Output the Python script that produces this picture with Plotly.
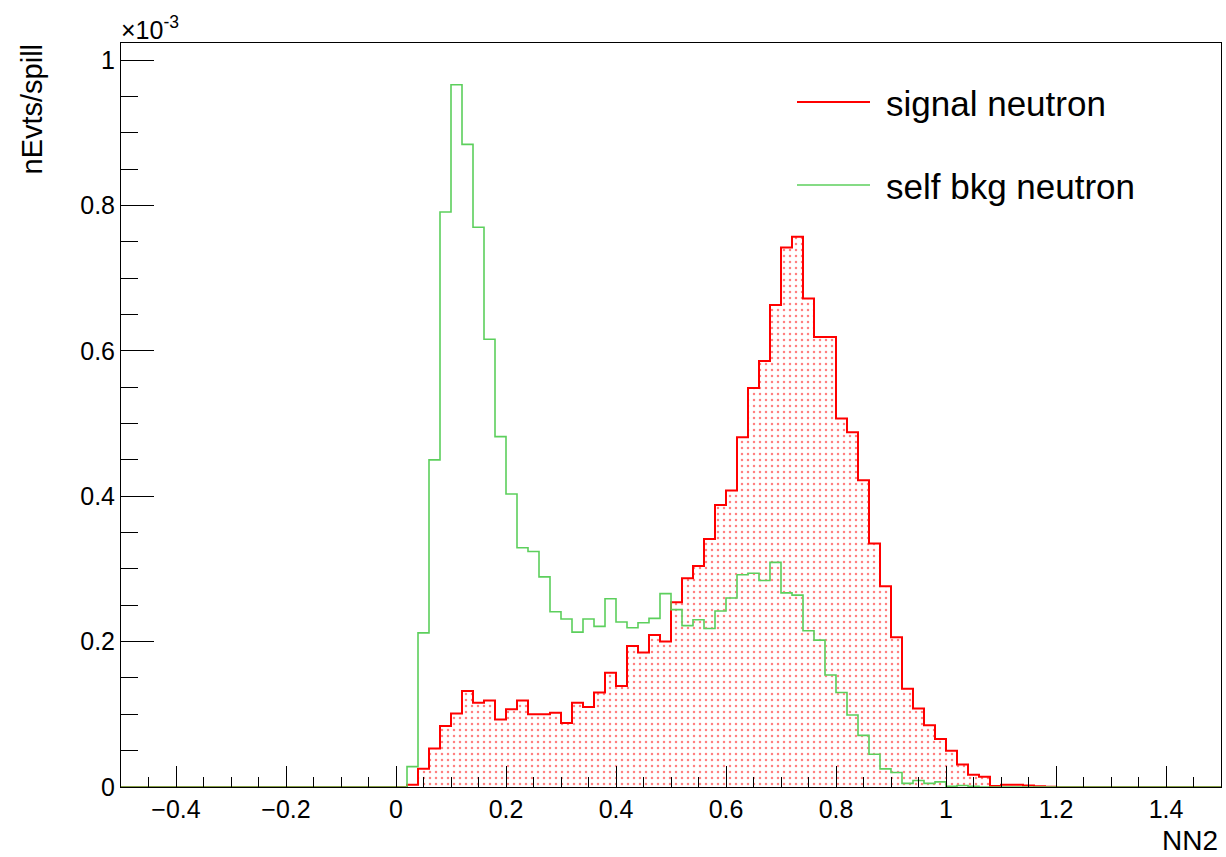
import plotly.graph_objects as go

# ---- data (values in units of 1e-3 nEvts/spill), 100 bins of 0.02 from -0.5 to 1.5 ----
X_LOW = -0.5
BIN_WIDTH = 0.02
N_BINS = 100
bin_edges = [round(X_LOW + BIN_WIDTH * i, 2) for i in range(N_BINS + 1)]

# bins below 0.00 are empty
signal_neg = [0.0] * 25
bkg_neg = [0.0] * 25

# bins starting at 0.00, 0.02, ... 1.18
signal_pos = [
    0.0, 0.003, 0.025, 0.053, 0.084, 0.101, 0.132, 0.116, 0.119, 0.093,
    0.107, 0.119, 0.100, 0.100, 0.102, 0.088, 0.116, 0.110, 0.130, 0.157,
    0.139, 0.194, 0.185, 0.209, 0.200, 0.254, 0.287, 0.304, 0.341, 0.388,
    0.408, 0.481, 0.549, 0.586, 0.663, 0.742, 0.757, 0.672, 0.619, 0.619,
    0.507, 0.488, 0.422, 0.335, 0.276, 0.206, 0.135, 0.108, 0.085, 0.066,
    0.050, 0.031, 0.017, 0.014, 0.0014, 0.003, 0.003, 0.002, 0.001, 0.0005,
]
bkg_pos = [
    0.0, 0.028, 0.212, 0.450, 0.791, 0.966, 0.884, 0.770, 0.616, 0.482,
    0.403, 0.329, 0.324, 0.289, 0.241, 0.231, 0.213, 0.231, 0.221, 0.259,
    0.227, 0.219, 0.226, 0.232, 0.266, 0.244, 0.222, 0.230, 0.218, 0.242,
    0.260, 0.292, 0.294, 0.284, 0.309, 0.267, 0.264, 0.215, 0.202, 0.154,
    0.130, 0.099, 0.071, 0.045, 0.025, 0.020, 0.005, 0.009, 0.005, 0.007,
    0.001, 0.002, 0.001, 0.0, 0.0, 0.0, 0.0, 0.0, 0.0, 0.0,
]
# bins from 1.20 to 1.48 are empty
signal_tail = [0.0] * 15
bkg_tail = [0.0] * 15

signal = signal_neg + signal_pos + signal_tail
bkg = bkg_neg + bkg_pos + bkg_tail

series_names = ["signal neutron", "self bkg neutron"]
RED = "#ff0000"
GREEN = "#5ccf5c"
FONT = "Liberation Sans, Arial, Helvetica, sans-serif"

fig = go.Figure()

# signal: dotted fill + step outline
fig.add_trace(go.Scatter(
    x=bin_edges, y=signal + [signal[-1]],
    mode="lines", line=dict(shape="hv", color=RED, width=2),
    fill="tozeroy", fillcolor="rgba(255,255,255,0)",
    fillpattern=dict(shape=".", fgcolor=RED, bgcolor="rgba(255,255,255,0)",
                     size=6, solidity=0.14),
    name=series_names[0], showlegend=False,
))
# background: step outline
fig.add_trace(go.Scatter(
    x=bin_edges, y=bkg + [bkg[-1]],
    mode="lines", line=dict(shape="hv", color=GREEN, width=1.6),
    name=series_names[1], showlegend=False,
))

L, R, T, B = 121, 1221, 43, 787
W, H = 1226, 857
def px_x(p):
    return (p - L) / (R - L)
def px_y(p):
    return (B - p) / (B - T)

# legend (ROOT TLegend style)
legend_rows = [(series_names[0], RED, 102), (series_names[1], GREEN, 185)]
shapes = []
annotations = []
for name, col, py in legend_rows:
    shapes.append(dict(type="line", xref="paper", yref="paper",
                       x0=px_x(797), x1=px_x(870), y0=px_y(py), y1=px_y(py),
                       line=dict(color=col, width=2 if col == RED else 1.6)))
    annotations.append(dict(xref="paper", yref="paper", x=px_x(884), y=px_y(py + 1),
                            xanchor="left", yanchor="middle", showarrow=False,
                            text=name, font=dict(family=FONT, size=35, color="black")))

# exponent label
annotations.append(dict(xref="paper", yref="paper", x=0, y=1.0, xanchor="left",
                        yanchor="bottom", showarrow=False, yshift=-3, xshift=-2,
                        text="×10<sup>-3</sup>", font=dict(family=FONT, size=25, color="black")))
# y title
annotations.append(dict(xref="paper", yref="paper", x=px_x(32), y=px_y(42),
                        xanchor="center", yanchor="top", showarrow=False, textangle=-90,
                        text="nEvts/spill", font=dict(family=FONT, size=29, color="black")))
# x title
annotations.append(dict(xref="paper", yref="paper", x=px_x(1220), y=px_y(840),
                        xanchor="right", yanchor="middle", showarrow=False,
                        text="NN2", font=dict(family=FONT, size=28, color="black")))

fig.update_layout(
    width=W, height=H,
    margin=dict(l=L, r=W - R, t=T, b=H - B, pad=0),
    paper_bgcolor="white", plot_bgcolor="white",
    font=dict(family=FONT, size=25, color="black"),
    shapes=shapes, annotations=annotations,
    showlegend=False,
)
fig.update_xaxes(
    range=[-0.5, 1.5], tick0=0, dtick=0.2,
    ticks="inside", ticklen=21, tickwidth=1, tickcolor="black",
    showline=True, linecolor="black", linewidth=1, mirror=True,
    showgrid=False, zeroline=False,
    tickfont=dict(family=FONT, size=25, color="black"),
    minor=dict(dtick=0.05, tick0=0, ticks="inside", ticklen=10, tickwidth=1,
               tickcolor="black", showgrid=False),
)
fig.update_yaxes(
    range=[0, 1.0234], tick0=0, dtick=0.2,
    ticks="inside", ticklen=33, tickwidth=1, tickcolor="black",
    showline=True, linecolor="black", linewidth=1, mirror=True,
    showgrid=False, zeroline=False,
    tickfont=dict(family=FONT, size=25, color="black"),
    minor=dict(dtick=0.05, tick0=0, ticks="inside", ticklen=17, tickwidth=1,
               tickcolor="black", showgrid=False),
)

fig.write_html("out.html")
